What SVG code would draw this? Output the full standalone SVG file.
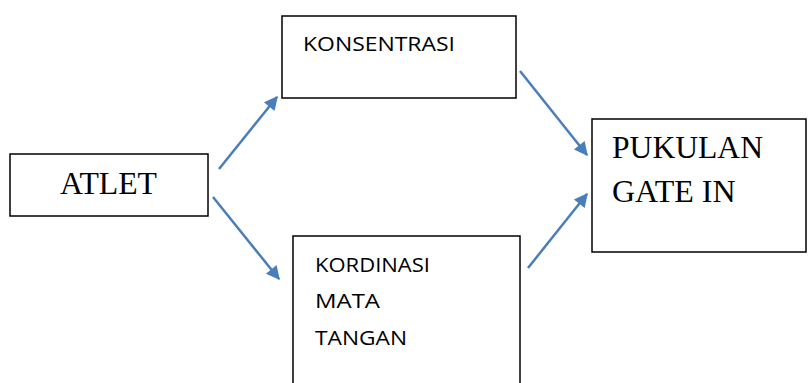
<svg xmlns="http://www.w3.org/2000/svg" width="808" height="383" viewBox="0 0 808 383">
<style>
.box{fill:#fff;stroke:#000;stroke-width:1.5}
.serif{font-family:"Liberation Serif","Times New Roman",serif;font-size:32px;fill:#000}
.sans{font-family:"Open Sans","Liberation Sans",sans-serif;font-size:20px;fill:#000}
.conn{stroke:#4A7EBB;stroke-width:2.5;fill:none;marker-end:url(#ah)}
</style>
<defs>
<marker id="ah" viewBox="0 0 10 10" refX="9" refY="5" markerWidth="6.5" markerHeight="5.5" markerUnits="strokeWidth" orient="auto">
<path d="M0,0 L10,5 L0,10 z" fill="#4A7EBB"/>
</marker>
</defs>
<rect width="808" height="383" fill="#fff"/>
<g id="atlet">
<rect class="box" x="10" y="154" width="198" height="62"/>
<text class="serif" x="60" y="194" textLength="97" lengthAdjust="spacingAndGlyphs">ATLET</text>
</g>
<g id="konsentrasi">
<rect class="box" x="282" y="16" width="234" height="82"/>
<text class="sans" x="303" y="51" textLength="152" lengthAdjust="spacingAndGlyphs">KONSENTRASI</text>
</g>
<g id="kordinasi">
<rect class="box" x="293" y="236" width="227" height="160"/>
<text class="sans" x="315" y="272" textLength="115" lengthAdjust="spacingAndGlyphs">KORDINASI</text>
<text class="sans" x="315" y="308" textLength="65" lengthAdjust="spacingAndGlyphs">MATA</text>
<text class="sans" x="315" y="345" textLength="92" lengthAdjust="spacingAndGlyphs">TANGAN</text>
</g>
<g id="pukulan">
<rect class="box" x="592" y="119" width="214" height="133"/>
<text class="serif" x="612" y="158" textLength="151" lengthAdjust="spacingAndGlyphs">PUKULAN</text>
<text class="serif" x="612" y="202">GATE IN</text>
</g>
<g id="connectors">
<line class="conn" x1="219" y1="169" x2="277" y2="97"/>
<line class="conn" x1="213" y1="197" x2="279" y2="279"/>
<line class="conn" x1="520" y1="71" x2="587" y2="155"/>
<line class="conn" x1="528" y1="268" x2="587" y2="194"/>
</g>
</svg>
